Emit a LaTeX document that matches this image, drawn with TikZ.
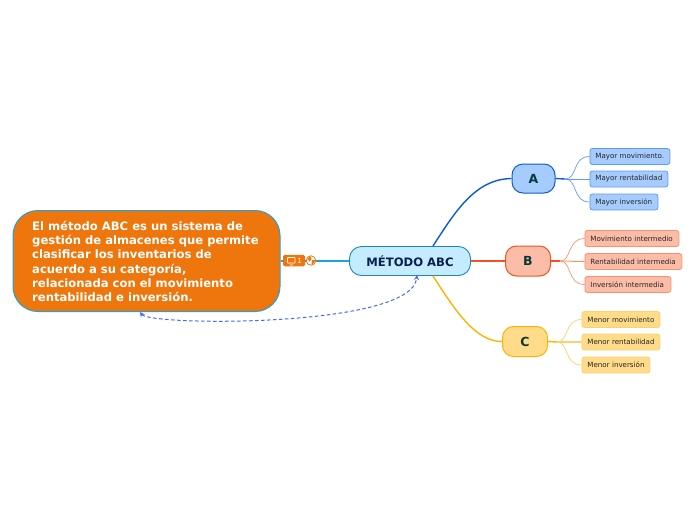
\documentclass[tikz,border=0pt]{standalone}
\usepackage{fontspec}
\setmainfont{DejaVu Sans}
\usetikzlibrary{arrows.meta}
\definecolor{orfill}{HTML}{EE760D}
\definecolor{cyanl}{HTML}{1BA3DC}
\definecolor{rootfill}{HTML}{C4EBFE}
\definecolor{rootdraw}{HTML}{1E86C8}
\definecolor{roottext}{HTML}{0A1F50}
\definecolor{lettertext}{HTML}{063A36}
\definecolor{afill}{HTML}{A6CBFE}
\definecolor{adraw}{HTML}{0B5BD6}
\definecolor{aline}{HTML}{5F9BF0}
\definecolor{bfill}{HTML}{FBBCA8}
\definecolor{bdraw}{HTML}{F4511E}
\definecolor{bline}{HTML}{F9936F}
\definecolor{cfill}{HTML}{FFDB8A}
\definecolor{cdraw}{HTML}{FFB300}
\definecolor{cline}{HTML}{FFD070}
\definecolor{relblue}{HTML}{4A68F5}
\tikzset{
  x=1pt,y=-1pt,
  box/.style={rounded corners=#1,align=left,inner sep=0pt,line width=.9pt},
  branchbox/.style={box=11pt,font=\bfseries\fontsize{12.5}{12}\selectfont,text=lettertext,line width=1pt},
  leaf/.style={box=2.5pt,font=\fontsize{7.1}{8}\selectfont,text=black!85,line width=.8pt,anchor=west,inner xsep=5.5pt,minimum height=16pt,text width=#1},
  wire/.style={line width=.7pt,draw=#1},
}
\begin{document}
\begin{tikzpicture}
\useasboundingbox (0,0) rectangle (696,520);
\coordinate (ja) at (565,179);
\coordinate (jb) at (560,261);
\coordinate (jc) at (557,342);
\node[box=25pt,draw=cyanl,fill=orfill,minimum width=267pt,minimum height=101pt,line width=1pt] (def) at (146.5,261) {};
\node[anchor=west,align=left,inner sep=0pt,text=white,font=\bfseries\fontsize{11.6}{14.2}\selectfont] (deftext) at (32,261.5) {El método ABC es un sistema de\\gestión de almacenes que permite\\clasificar los inventarios de\\acuerdo a su categoría,\\relacionada con el movimiento\\rentabilidad e inversión.};
\node[box=12pt,draw=rootdraw,fill=rootfill,minimum width=121pt,minimum height=29pt,text=roottext,font=\bfseries\fontsize{11.6}{12}\selectfont] (root) at (410,261) {MÉTODO ABC};
\node[branchbox,draw=adraw,fill=afill,minimum width=43pt,minimum height=29pt] (A) at (533.5,178.5) {A};
\node[branchbox,draw=bdraw,fill=bfill,minimum width=45pt,minimum height=30pt] (B) at (528,261) {B};
\node[branchbox,draw=cdraw,fill=cfill,minimum width=45pt,minimum height=30pt] (C) at (525,341.5) {C};
\draw[line width=1.4pt,cyanl] (def.east) -- (root.west);
\draw[line width=1.4pt,adraw] (433,246) .. controls (455,212) and (475,179) .. (A.west);
\draw[line width=1.4pt,bdraw] (root.east) -- (B.west);
\draw[line width=1.4pt,cdraw] (433,276) .. controls (455,310) and (475,341.5) .. (C.west);
\node[leaf=69pt,draw=aline,fill=afill] (a1) at (589.5,156.5) {\mbox{Mayor movimiento.}};
\node[leaf=67pt,draw=aline,fill=afill] (a2) at (589.5,179) {\mbox{Mayor rentabilidad}};
\node[leaf=57pt,draw=aline,fill=afill] (a3) at (589.5,202) {\mbox{Mayor inversión}};
\node[leaf=83pt,draw=bline,fill=bfill] (b1) at (584.5,238.5) {\mbox{Movimiento intermedio}};
\node[leaf=86pt,draw=bline,fill=bfill] (b2) at (584.5,261.5) {\mbox{Rentabilidad intermedia}};
\node[leaf=75pt,draw=bline,fill=bfill] (b3) at (584.5,284.5) {\mbox{Inversión intermedia}};
\node[leaf=67pt,draw=cline,fill=cfill] (c1) at (581.5,319.5) {\mbox{Menor movimiento}};
\node[leaf=67pt,draw=cline,fill=cfill] (c2) at (581.5,342) {\mbox{Menor rentabilidad}};
\node[leaf=57pt,draw=cline,fill=cfill] (c3) at (581.5,365) {\mbox{Menor inversión}};
\draw[line width=1.4pt,adraw] (A.east) -- (ja);
\draw[line width=1.4pt,bdraw] (B.east) -- (jb);
\draw[line width=1.4pt,cdraw] (C.east) -- (jc);
\draw[wire=aline] (ja) .. controls (578,179) and (572,156.5) .. (a1.west);
\draw[wire=aline,line width=1pt] (ja) -- (a2.west);
\draw[wire=aline] (ja) .. controls (578,179) and (572,202) .. (a3.west);
\draw[wire=bline] (jb) .. controls (572,261) and (567,238.5) .. (b1.west);
\draw[wire=bline,line width=1pt] (jb) -- (b2.west);
\draw[wire=bline] (jb) .. controls (572,261) and (567,284.5) .. (b3.west);
\draw[wire=cline] (jc) .. controls (569,342) and (564,319.5) .. (c1.west);
\draw[wire=cline,line width=1.2pt] (jc) -- (c2.west);
\draw[wire=cline] (jc) .. controls (569,342) and (564,365) .. (c3.west);
\coordinate (rs) at (140,312);
\coordinate (re) at (417,275);
\draw[relblue,line width=1pt,dash pattern=on 3.5pt off 2.5pt,{Stealth[length=5pt,width=5pt]}-{Stealth[length=5pt,width=5pt]}] (rs) .. controls (150,326) and (412,328) .. (re);
\node[box=1.5pt,fill=orfill,minimum width=22pt,minimum height=11.5pt] (mark) at (294,260.5) {};
\node[inner sep=0pt,text=white,font=\fontsize{7}{7}\selectfont] (marknum) at (299.5,260.5) {1};
\draw[white,line width=.7pt,rounded corners=.5pt] (287.5,257.5) rectangle (295,263) (289.5,265)--(293,265);
\node[circle,draw=orfill,fill=white,line width=.8pt,minimum size=9.5pt,inner sep=0pt] (globe) at (311,260.5) {};
\fill[orfill] (307.5,258) -- (311,256.5) -- (311.5,259.5) -- (309,261.5) -- cycle;
\fill[orfill] (312,260) -- (315,260) -- (314,263) -- (311.5,264.5) -- cycle;
\end{tikzpicture}
\end{document}
